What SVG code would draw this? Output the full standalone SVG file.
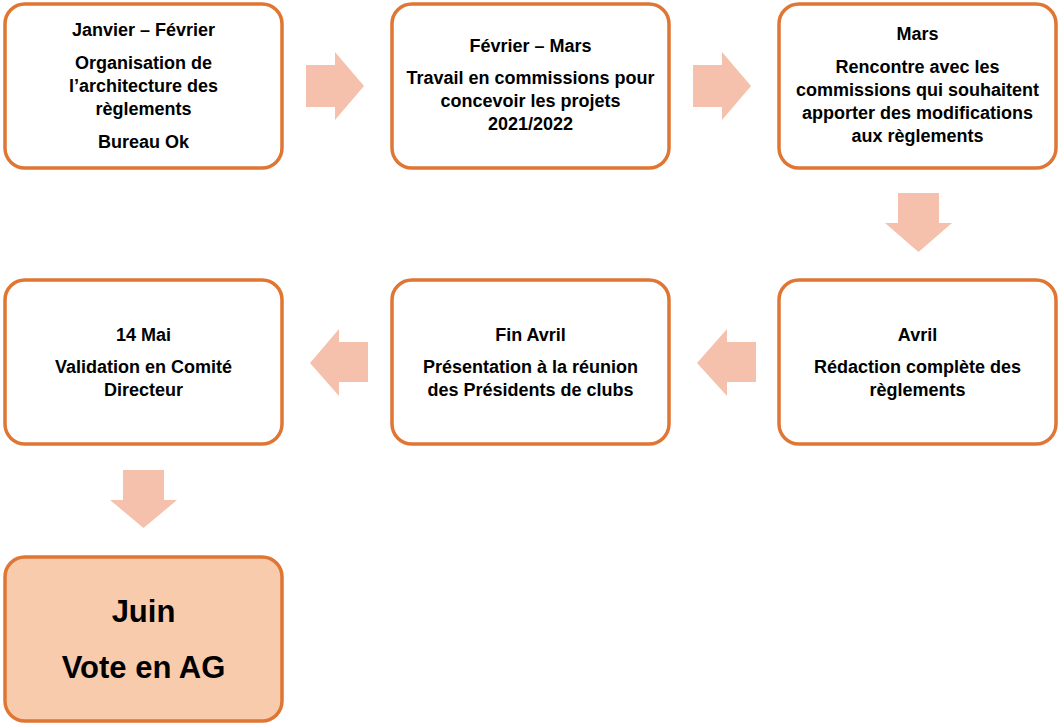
<svg xmlns="http://www.w3.org/2000/svg" width="1059" height="724" viewBox="0 0 1059 724">
<style>
.box{fill:#fff;stroke:#DF7634;stroke-width:3.5}
.final{fill:#F8CBAD;stroke:#DF7634;stroke-width:3.5}
.arr{fill:#F5C1AD}
text{font-family:"Liberation Sans",Arial,sans-serif;font-weight:bold;fill:#000;text-anchor:middle;font-size:18px}
.big{font-size:31px}
</style>
<rect width="1059" height="724" fill="#fff"/>
<g id="connectors">
<polygon class="arr" points="306,65 335,65 335,52 364,86 335,120 335,107 306,107"/>
<polygon class="arr" points="693,65 722,65 722,52 751,86 722,120 722,107 693,107"/>
<polygon class="arr" points="898,193 939,193 939,223 952,223 918.5,252 885,223 898,223"/>
<polygon class="arr" points="756,342 727,342 727,329 697,363 727,396 727,382 756,382"/>
<polygon class="arr" points="368,342 339,342 339,329 310,363 339,396 339,382 368,382"/>
<polygon class="arr" points="123,470 164,470 164,500 177,500 143.5,528 110,500 123,500"/>
</g>
<g id="n1">
<rect class="box" x="5" y="4" width="277" height="164" rx="20"/>
<text x="143.5" y="36">Janvier – Février</text>
<text x="143.5" y="69">Organisation de</text>
<text x="143.5" y="92">l’architecture des</text>
<text x="143.5" y="115">règlements</text>
<text x="143.5" y="148">Bureau Ok</text>
</g>
<g id="n2">
<rect class="box" x="392" y="4" width="277" height="164" rx="20"/>
<text x="530.5" y="52">Février – Mars</text>
<text x="530.5" y="84">Travail en commissions pour</text>
<text x="530.5" y="107">concevoir les projets</text>
<text x="530.5" y="130">2021/2022</text>
</g>
<g id="n3">
<rect class="box" x="779" y="4" width="277" height="164" rx="20"/>
<text x="917.5" y="40">Mars</text>
<text x="917.5" y="73">Rencontre avec les</text>
<text x="917.5" y="96">commissions qui souhaitent</text>
<text x="917.5" y="119">apporter des modifications</text>
<text x="917.5" y="142">aux règlements</text>
</g>
<g id="n4">
<rect class="box" x="779" y="280" width="277" height="164" rx="20"/>
<text x="917.5" y="341">Avril</text>
<text x="917.5" y="373">Rédaction complète des</text>
<text x="917.5" y="396">règlements</text>
</g>
<g id="n5">
<rect class="box" x="392" y="280" width="277" height="164" rx="20"/>
<text x="530.5" y="341">Fin Avril</text>
<text x="530.5" y="373">Présentation à la réunion</text>
<text x="530.5" y="396">des Présidents de clubs</text>
</g>
<g id="n6">
<rect class="box" x="5" y="280" width="277" height="164" rx="20"/>
<text x="143.5" y="341">14 Mai</text>
<text x="143.5" y="373">Validation en Comité</text>
<text x="143.5" y="396">Directeur</text>
</g>
<g id="n7">
<rect class="final" x="5" y="557" width="277" height="164" rx="20"/>
<text class="big" x="143.5" y="622">Juin</text>
<text class="big" x="143.5" y="678">Vote en AG</text>
</g>
</svg>
